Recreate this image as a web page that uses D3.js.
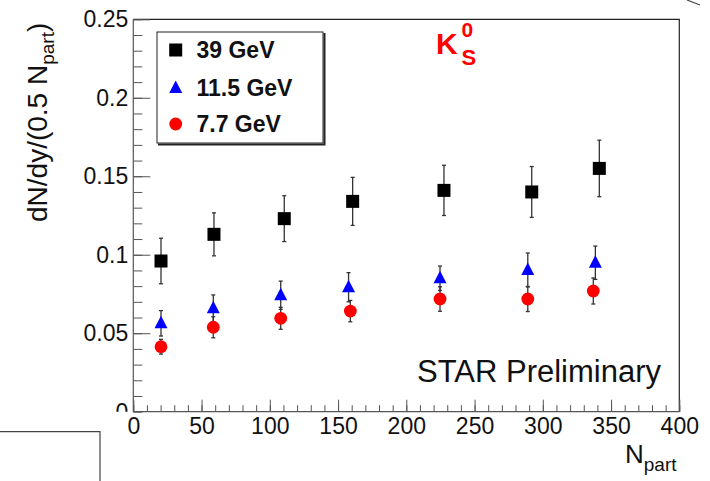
<!DOCTYPE html>
<html>
<head>
<meta charset="utf-8">
<script src="https://cdn.jsdelivr.net/npm/d3@7"></script>
<style>
  body { margin: 0; background: #fff; }
  svg { display: block; font-family: "Liberation Sans", Arial, sans-serif; }
</style>
</head>
<body>
<div id="chart"></div>
<script>
// ---- data ----
const series = ["39 GeV", "11.5 GeV", "7.7 GeV"];
const npart39 = [20.3, 59.1, 110.6, 160.7, 227.6, 291.9, 341.4];
const yield39 = [0.096, 0.113, 0.123, 0.134, 0.141, 0.140, 0.155];
const err39 = [0.0145, 0.0137, 0.0146, 0.0153, 0.016, 0.0162, 0.018];

const npart115 = [20.3, 58.6, 108.0, 157.7, 224.7, 289.0, 338.5];
const yield115 = [0.0563, 0.0659, 0.0742, 0.0793, 0.085, 0.0903, 0.0949];
const err115 = [0.0081, 0.0085, 0.009, 0.0093, 0.0078, 0.0108, 0.0106];

const npart77 = [20.3, 58.6, 108.0, 159.0, 224.7, 289.0, 337.0];
const yield77 = [0.0414, 0.0538, 0.0595, 0.0641, 0.0718, 0.0718, 0.0769];
const err77 = [0.0047, 0.0067, 0.007, 0.0068, 0.0078, 0.008, 0.0083];

const xTicks = [0, 50, 100, 150, 200, 250, 300, 350, 400];
const xMinor = d3.range(0, 401, 10);
const yTicks = [0, 0.05, 0.1, 0.15, 0.2, 0.25];
const yTickLabels = ["0", "0.05", "0.1", "0.15", "0.2", "0.25"];
const yMinor = d3.range(0, 26).map(i => i / 100);

const width = 710, height = 481;
const svg = d3.select("#chart").append("svg")
  .attr("width", width).attr("height", height);
svg.append("rect").attr("width", width).attr("height", height).attr("fill", "#fff");

const x = d3.scaleLinear().domain([0, 400]).range([133.3, 679.3]);
const y = d3.scaleLinear().domain([0, 0.25]).range([411.7, 19.3]);

const axisColor = "#555";

// frame (top and right)
svg.append("path")
  .attr("d", `M${x(0)},${y(0.25)}H${x(400)}V${y(0)}`)
  .attr("fill", "none").attr("stroke", "#222").attr("stroke-width", 1.2);

// clip for the "0" label on the y axis (its lower half is hidden in the original)
svg.append("clipPath").attr("id", "yclip")
  .append("rect").attr("x", -140).attr("y", 0).attr("width", 200).attr("height", y(0));

// ---- y axis ----
const gy = svg.append("g").attr("transform", `translate(${x(0)},0)`);
gy.append("g")
  .call(d3.axisLeft(y).tickValues(yMinor).tickSize(-9).tickFormat(""))
  .call(g => g.select(".domain").remove());
gy.append("g")
  .attr("clip-path", "url(#yclip)")
  .call(d3.axisLeft(y).tickValues(yTicks).tickSize(-17).tickPadding(5)
    .tickFormat((d, i) => yTickLabels[i]))
  .call(g => g.select(".domain").remove())
  .call(g => g.selectAll("text").attr("font-size", 23).attr("fill", "#111")
    .attr("font-family", "Liberation Sans, Arial, sans-serif"));
gy.selectAll("line").attr("stroke", axisColor);
gy.append("line").attr("y1", y(0)).attr("y2", y(0.25))
  .attr("stroke", axisColor).attr("stroke-width", 1.2);

// ---- x axis ----
const gx = svg.append("g").attr("transform", `translate(0,${y(0)})`);
gx.append("g")
  .call(d3.axisBottom(x).tickValues(xMinor).tickSize(-6.5).tickFormat(""))
  .call(g => g.select(".domain").remove());
gx.append("g")
  .call(d3.axisBottom(x).tickValues(xTicks).tickSize(-12).tickPadding(6))
  .call(g => g.select(".domain").remove())
  .call(g => g.selectAll("text").attr("font-size", 23).attr("fill", "#111")
    .attr("font-family", "Liberation Sans, Arial, sans-serif"));
gx.selectAll("line").attr("stroke", axisColor);
gx.append("line").attr("x1", x(0)).attr("x2", x(400))
  .attr("stroke", axisColor).attr("stroke-width", 1.2);

// ---- axis titles ----
const yTitle = svg.append("text")
  .attr("transform", "translate(47,222) rotate(-90)")
  .attr("font-size", 28).attr("fill", "#111");
yTitle.append("tspan").text("dN/dy/(0.5 N");
yTitle.append("tspan").attr("font-size", 19).attr("dy", 7).text("part");
yTitle.append("tspan").attr("dy", -7).text(")");

const xTitle = svg.append("text")
  .attr("x", 625).attr("y", 463)
  .attr("font-size", 26).attr("fill", "#111");
xTitle.append("tspan").text("N");
xTitle.append("tspan").attr("font-size", 19).attr("dy", 8).text("part");

// ---- data ----
const sets = [
  { n: npart39, v: yield39, e: err39, shape: "square", color: "#000" },
  { n: npart115, v: yield115, e: err115, shape: "triangle", color: "#0000ff" },
  { n: npart77, v: yield77, e: err77, shape: "circle", color: "#ff0000" }
];

function marker(g, shape, color) {
  if (shape === "square") {
    g.append("rect").attr("x", -6.5).attr("y", -6.5).attr("width", 13).attr("height", 13)
      .attr("fill", color);
  } else if (shape === "triangle") {
    g.append("path").attr("d", "M0,-7.5L6.5,5L-6.5,5Z").attr("fill", color);
  } else {
    g.append("circle").attr("r", 6.4).attr("fill", color);
  }
}

// error bars first, markers on top
sets.forEach(s => {
  const pts = s.n.map((n, i) => ({ n, v: s.v[i], e: s.e[i] }));
  const eb = svg.append("g").attr("stroke", "#333").attr("stroke-width", 1.3);
  pts.forEach(p => {
    const px = x(p.n), top = y(p.v + p.e), bot = y(p.v - p.e);
    eb.append("line").attr("x1", px).attr("x2", px).attr("y1", top).attr("y2", bot);
    eb.append("line").attr("x1", px - 2).attr("x2", px + 2).attr("y1", top).attr("y2", top);
    eb.append("line").attr("x1", px - 2).attr("x2", px + 2).attr("y1", bot).attr("y2", bot);
  });
});
sets.forEach(s => {
  s.n.forEach((n, i) => {
    const g = svg.append("g").attr("transform", `translate(${x(n)},${y(s.v[i])})`);
    marker(g, s.shape, s.color);
  });
});

// ---- legend ----
const lg = svg.append("g");
lg.append("rect").attr("x", 157).attr("y", 32).attr("width", 166).attr("height", 111)
  .attr("fill", "#fff").attr("stroke", "#222").attr("stroke-width", 1);
lg.append("path").attr("d", "M324.5,33V144.5H158")
  .attr("fill", "none").attr("stroke", "#222").attr("stroke-width", 2);
const rowY = [50, 88, 124];
sets.forEach((s, i) => {
  const g = lg.append("g").attr("transform", `translate(175.7,${rowY[i]})`);
  marker(g, s.shape, s.color);
  lg.append("text").attr("x", 196.5).attr("y", rowY[i] + 8.3)
    .attr("font-size", 23).attr("font-weight", "bold").attr("fill", "#111")
    .text(series[i]);
});

// ---- annotations ----
const k = svg.append("g").attr("fill", "#ff0000").attr("font-weight", "bold");
k.append("text").attr("x", 436).attr("y", 53.5).attr("font-size", 30).text("K");
k.append("text").attr("x", 461.5).attr("y", 36.7).attr("font-size", 21).text("0");
k.append("text").attr("x", 461.5).attr("y", 65).attr("font-size", 22).text("S");

svg.append("text").attr("x", 661).attr("y", 382).attr("text-anchor", "end")
  .attr("font-size", 31).attr("fill", "#111").text("STAR Preliminary");

// stray lines at the picture edges
svg.append("path").attr("d", "M0,431.7H100V481")
  .attr("fill", "none").attr("stroke", "#444").attr("stroke-width", 1.2);
svg.append("path").attr("d", "M687,0L700,5")
  .attr("fill", "none").attr("stroke", "#444").attr("stroke-width", 1.2);
</script>
</body>
</html>
